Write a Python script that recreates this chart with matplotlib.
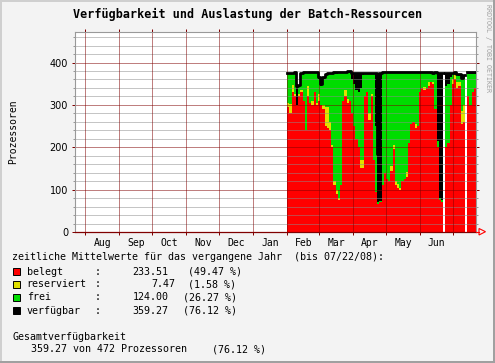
import numpy as np
import matplotlib
matplotlib.use('Agg')
import matplotlib.pyplot as plt
import matplotlib.dates as mdates
import matplotlib.patches as patches
from matplotlib.lines import Line2D

W, H = 495, 363

# one sample every 2 days, starting 2008-02-01
start = np.datetime64('2008-02-01')
step_days = 2
belegt = [295, 280, 330, 320, 300, 320, 330, 310, 240, 320, 305, 300, 330, 300, 310, 300,
          290, 250, 245, 240, 200, 110, 90, 75, 110, 310, 320, 305, 310, 280, 250, 220,
          200, 150, 150, 320, 330, 265, 320, 170, 95, 65, 70, 110, 140, 125, 120, 145,
          195, 110, 105, 100, 120, 125, 130, 210, 255, 260, 245, 250, 330, 340, 335, 340,
          345, 355, 350, 290, 200, 75, 70, 0, 200, 210, 300, 350, 360, 340, 345, 255,
          260, 0, 320, 300, 330, 340]
reserviert = [10, 22, 18, 5, 0, 5, 5, 0, 0, 25, 0, 10, 0, 5, 15, 0,
              10, 45, 50, 20, 5, 10, 10, 5, 0, 0, 15, 10, 0, 0, 0, 0,
              0, 20, 20, 0, 0, 15, 5, 0, 0, 0, 0, 0, 0, 0, 0, 10,
              10, 10, 8, 5, 0, 0, 12, 0, 0, 0, 10, 0, 0, 0, 8, 0,
              10, 0, 5, 0, 0, 0, 0, 0, 0, 0, 0, 10, 10, 15, 10, 30,
              40, 0, 0, 0, 0, 0]
frei = [67, 70, 26, 47, 0, 20, 37, 65, 135, 30, 70, 65, 45, 70, 37, 45,
        62, 75, 77, 113, 168, 254, 274, 295, 265, 65, 40, 61, 66, 80, 100, 115,
        130, 170, 200, 54, 44, 94, 49, 202, 155, 5, 2, 266, 236, 251, 256, 221,
        171, 256, 263, 271, 256, 251, 234, 166, 121, 116, 121, 126, 46, 36, 33, 36,
        21, 19, 17, 82, 15, 5, 5, 0, 145, 140, 65, 12, 4, 15, 13, 75,
        65, 0, 54, 74, 44, 34]
verfuegbar = [375, 375, 376, 377, 345, 348, 375, 378, 378, 378, 378, 377, 377, 377, 365, 350,
              366, 373, 375, 376, 376, 377, 377, 378, 378, 378, 378, 379, 379, 376, 376, 376,
              375, 375, 375, 376, 376, 376, 376, 375, 376, 185, 376, 378, 378, 378, 378, 378,
              378, 378, 378, 378, 378, 378, 378, 378, 378, 378, 378, 378, 378, 378, 378, 378,
              378, 377, 376, 377, 376, 376, 376, np.nan, 376, 376, 376, 376, 377, 374, 372, 364,
              370, np.nan, 377, 377, 377, 377]

month_starts = ['2007-08-01', '2007-09-01', '2007-10-01', '2007-11-01', '2007-12-01',
                '2008-01-01', '2008-02-01', '2008-03-01', '2008-04-01', '2008-05-01',
                '2008-06-01', '2008-07-01']
month_labels = ['Aug', 'Sep', 'Oct', 'Nov', 'Dec', 'Jan', 'Feb', 'Mar', 'Apr', 'May', 'Jun']

legend_names = ['belegt', 'reserviert', 'frei', 'verfügbar']
legend_colors = ['#ff0000', '#e0e000', '#00dd00', '#000000']
legend_means = ['233.51', '7.47', '124.00', '359.27']
legend_pcts = ['(49.47 %)', '(1.58 %)', '(26.27 %)', '(76.12 %)']

DARKRED = '#800000'
MONO = 'DejaVu Sans Mono'
plt.rcParams['lines.scale_dashes'] = False


def fx(px):
    return px / W


def fy(py):
    return 1 - py / H


fig = plt.figure(figsize=(W / 100, H / 100), dpi=100, facecolor='#f3f3f3')

# 3d-ish frame round the picture
fig.add_artist(patches.Rectangle((0, 0), fx(2), 1, transform=fig.transFigure, color='#cfcfcf', lw=0))
fig.add_artist(patches.Rectangle((0, fy(2)), 1, 2 / H, transform=fig.transFigure, color='#cfcfcf', lw=0))
fig.add_artist(patches.Rectangle((fx(493), 0), fx(2), 1, transform=fig.transFigure, color='#a0a0a0', lw=0))
fig.add_artist(patches.Rectangle((0, 0), 1, 2 / H, transform=fig.transFigure, color='#a0a0a0', lw=0))

# plot area on whole pixels so the 1px dots line up
ax = fig.add_axes([fx(75), fy(232), (476 - 75) / W, (232 - 32) / H])
ax.set_facecolor('white')

n = len(belegt)
edges = mdates.date2num(start + np.arange(n + 1) * np.timedelta64(step_days, 'D'))
red = np.array(belegt, float)
yel = red + np.array(reserviert, float)
top = yel + np.array(frei, float)
verf = np.array(verfuegbar, float)

ax.stairs(np.nan_to_num(verf), edges, baseline=0, fill=True, color='black', lw=0, zorder=1)
ax.stairs(top, edges, baseline=0, fill=True, color=legend_colors[2], lw=0, zorder=1.1)
ax.stairs(yel, edges, baseline=0, fill=True, color=legend_colors[1], lw=0, zorder=1.2)
ax.stairs(red, edges, baseline=0, fill=True, color=legend_colors[0], lw=0, zorder=1.3)
ax.step(edges, np.append(verf, verf[-1]), where='post', color='black', lw=2, zorder=3)

ax.set_xlim(mdates.date2num(np.datetime64('2007-07-22T12:00')),
            mdates.date2num(np.datetime64('2008-07-22T00:00')))
ax.set_ylim(0, 472)

# grid on top of the areas, rrdtool style (1 px on / 1 px off)
dotted = (0, (0.72, 0.72))
for v in range(20, 472, 20):
    col = DARKRED if v % 100 == 0 else '#8c8c8c'
    ax.axhline(v, color=col, lw=0.72, ls=dotted, zorder=2.5, snap=True)
ms = mdates.date2num(np.array(month_starts, dtype='datetime64[D]'))
for m in ms:
    ax.axvline(m, color=DARKRED, lw=0.72, ls=dotted, zorder=2.5, snap=True)

ax.set_xticks(ms)
ax.set_xticklabels([])
mids = (ms[:-1] + ms[1:]) / 2
ax.set_xticks(mids, labels=month_labels, minor=True, fontfamily=MONO, fontsize=7)
ax.tick_params(axis='x', which='major', top=True, bottom=True, direction='out',
               length=2.2, width=0.72, color=DARKRED)
ax.tick_params(axis='x', which='minor', length=0, pad=4)

ax.set_yticks([0, 100, 200, 300, 400])
ax.set_yticks(np.arange(20, 472, 20), minor=True)
ax.tick_params(axis='y', which='major', left=True, right=True, direction='out',
               length=2, width=0.72, color=DARKRED, labelsize=7, pad=3)
ax.tick_params(axis='y', which='minor', left=True, right=True, direction='out',
               length=1.1, width=0.72, color='#999999')

for s in ['left', 'top', 'right']:
    ax.spines[s].set_color('#999999')
    ax.spines[s].set_linewidth(0.8)
ax.spines['bottom'].set_color(DARKRED)
ax.spines['bottom'].set_linewidth(0.9)
ax.spines['bottom'].set_zorder(4)

# red arrow at the end of the time axis
fig.add_artist(Line2D([fx(476), fx(479)], [fy(232), fy(232)], transform=fig.transFigure,
                      color='#ff0000', lw=0.8))
fig.add_artist(patches.Polygon([(fx(479), fy(228.5)), (fx(485.5), fy(231.7)), (fx(479), fy(235))],
                               closed=True, fill=False, edgecolor='#ff0000', lw=0.8,
                               transform=fig.transFigure))

fig.text(fx(248), fy(14.5), 'Verfügbarkeit und Auslastung der Batch-Ressourcen',
         ha='center', va='center', fontsize=8.5, fontweight='bold', family=MONO)
fig.text(fx(12.7), fy(132), 'Prozessoren', rotation=90, ha='center', va='center',
         fontsize=7, family=MONO)
fig.text(fx(488.3), fy(48), 'RRDTOOL / TOBI OETIKER', rotation=-90, ha='center', va='center',
         fontsize=4.8, color='#a0a0a0', family=MONO)

fig.text(fx(12.3), fy(257.3), 'zeitliche Mittelwerte für das vergangene Jahr  (bis 07/22/08):',
         ha='left', va='center', fontsize=7.2, family=MONO)
row_y = [271.7, 284.3, 297.5, 310.7]
num_end = [168.3, 175, 168.3, 168.3]
pct_start = [188.3, 188.3, 182.7, 182.7]
for i, name in enumerate(legend_names):
    y = row_y[i]
    fig.add_artist(patches.Rectangle((fx(12.5), fy(y + 3.5)), 7.5 / W, 7 / H,
                                     transform=fig.transFigure, facecolor=legend_colors[i],
                                     edgecolor='black', lw=0.7))
    fig.text(fx(26.7), fy(y), name, ha='left', va='center', fontsize=7.2, family=MONO)
    fig.text(fx(94.3), fy(y), ':', ha='left', va='center', fontsize=7.2, family=MONO)
    fig.text(fx(num_end[i]), fy(y), legend_means[i], ha='right', va='center', fontsize=7.2, family=MONO)
    fig.text(fx(pct_start[i]), fy(y), legend_pcts[i], ha='left', va='center', fontsize=7.2, family=MONO)

fig.text(fx(12.3), fy(336.7), 'Gesamtverfügbarkeit', ha='left', va='center', fontsize=7.2, family=MONO)
fig.text(fx(30.7), fy(349.3), '359.27 von 472 Prozessoren', ha='left', va='center', fontsize=7.2, family=MONO)
fig.text(fx(211.7), fy(349.3), '(76.12 %)', ha='left', va='center', fontsize=7.2, family=MONO)

fig.savefig('out.png', dpi=100, facecolor=fig.get_facecolor())
